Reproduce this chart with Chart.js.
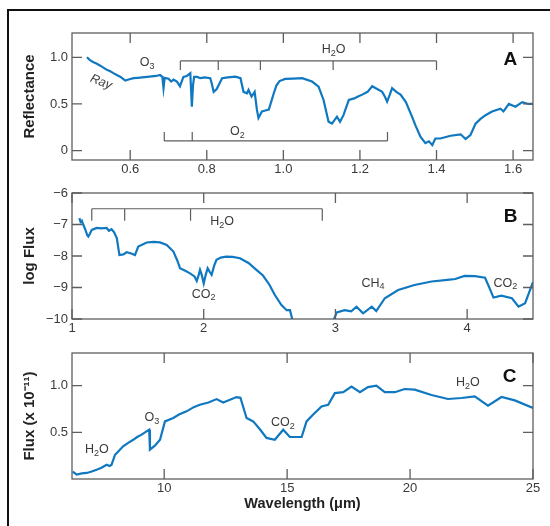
<!DOCTYPE html>
<html lang="en">
<head>
<meta charset="UTF-8" />
<title>Earth spectra</title>
<script src="https://cdn.jsdelivr.net/npm/chart.js"></script>
<style>
  *{margin:0;padding:0;box-sizing:border-box}
  html,body{width:550px;height:526px;background:#fff;overflow:hidden}
  .frame{position:absolute;left:7px;top:9px;width:620px;height:620px;border:2px solid #111}
  canvas{position:absolute;left:0;top:0}
</style>
</head>
<body>
<div class="frame"></div>
<canvas id="chartA" width="550" height="526"></canvas>
<canvas id="chartB" width="550" height="526"></canvas>
<canvas id="chartC" width="550" height="526"></canvas>
<script>
// Panel A: visible / near-IR reflectance
const aWave = [0.487,0.495,0.503,0.513,0.522,0.530,0.539,0.548,0.556,0.565,0.575,0.587,0.598,0.609,0.620,0.632,0.644,0.656,0.668,0.678,
  0.684,0.687,0.690,0.700,0.707,0.713,0.722,0.730,0.739,0.748,0.757,0.761,0.764,0.767,0.775,0.783,0.795,0.809,0.813,0.818,
  0.826,0.840,0.855,0.875,0.888,0.896,0.905,0.909,0.917,0.925,0.931,0.935,0.944,0.953,0.962,0.968,0.975,0.982,0.990,
  1.005,1.025,1.049,1.075,1.092,1.105,1.118,1.127,1.140,1.148,1.157,1.171,1.185,1.195,1.206,
  1.220,1.232,1.245,1.258,1.265,1.271,1.278,1.284,1.295,1.306,1.320,1.336,1.345,1.358,1.371,1.380,1.389,1.397,1.410,1.437,
  1.463,1.476,1.489,1.502,1.515,1.528,1.545,1.567,1.575,1.589,1.606,1.624,1.640,1.654];
const aRefl = [1.00,0.97,0.95,0.93,0.91,0.89,0.865,0.85,0.83,0.81,0.79,0.75,0.765,0.776,0.78,0.785,0.79,0.795,0.80,0.81,
  0.79,0.67,0.78,0.77,0.74,0.76,0.74,0.69,0.79,0.80,0.83,0.47,0.70,0.79,0.79,0.776,0.785,0.776,0.72,0.63,
  0.66,0.776,0.785,0.793,0.776,0.63,0.615,0.65,0.58,0.63,0.436,0.35,0.42,0.43,0.44,0.52,0.615,0.70,0.745,
  0.768,0.772,0.776,0.74,0.686,0.543,0.31,0.29,0.364,0.31,0.38,0.543,0.56,0.58,0.60,
  0.63,0.69,0.66,0.63,0.58,0.525,0.60,0.67,0.63,0.60,0.52,0.365,0.27,0.15,0.08,0.10,0.06,0.13,0.13,0.16,
  0.175,0.125,0.17,0.29,0.34,0.38,0.42,0.45,0.42,0.50,0.47,0.52,0.50,0.50];
const aXTicks = [0.6,0.8,1.0,1.2,1.4,1.6];
const aYTicks = [0,0.5,1.0];

// Panel B: mid-IR log flux
const bWave = [1.056,1.065,1.075,1.085,1.100,1.115,1.124,1.135,1.150,1.187,1.220,1.263,1.280,1.300,1.320,1.340,1.360,1.390,1.415,1.450,
  1.478,1.503,1.567,1.620,1.668,1.719,1.770,1.800,1.820,1.860,1.896,1.930,1.947,1.962,1.972,1.985,2.000,2.015,2.030,2.045,
  2.060,2.080,2.097,2.130,2.170,2.220,2.275,2.340,2.400,2.450,2.500,2.540,2.590,2.630,2.655,2.690,2.800,2.960,3.010,3.070,
  3.120,3.160,3.210,3.276,3.310,3.375,3.476,3.600,3.730,3.850,3.910,3.980,4.060,4.136,4.160,4.200,4.260,4.340,4.390,4.440,4.500];
const bLogFlux = [-6.80,-6.92,-6.88,-7.00,-7.15,-7.33,-7.38,-7.30,-7.17,-7.11,-7.12,-7.11,-7.20,-7.15,-7.25,-7.43,-7.97,-7.95,-7.88,-7.92,
  -7.97,-7.70,-7.57,-7.55,-7.57,-7.65,-7.86,-8.15,-8.39,-8.47,-8.55,-8.65,-8.79,-8.60,-8.44,-8.60,-8.87,-8.60,-8.39,-8.50,
  -8.60,-8.30,-8.12,-8.05,-8.02,-8.03,-8.07,-8.22,-8.44,-8.62,-8.92,-9.24,-9.56,-9.72,-9.72,-10.3,null,-10.3,-9.79,-9.72,
  -9.76,-9.61,-9.82,-9.61,-9.75,-9.34,-9.08,-8.92,-8.81,-8.76,-8.73,-8.63,-8.64,-8.69,-8.92,-9.32,-9.26,-9.34,-9.61,-9.50,-8.83];
const bXTicks = [1,2,3,4];
const bYTicks = [-10,-9,-8,-7,-6];

// Panel C: thermal IR flux
const cWave = [6.28,6.44,6.65,6.85,7.05,7.25,7.45,7.66,7.78,7.86,8.00,8.15,8.33,8.55,8.74,8.90,9.08,9.28,9.39,9.42,
  9.62,9.83,10.03,10.37,10.60,10.91,11.20,11.45,11.80,12.13,12.40,12.94,13.10,13.35,13.62,13.90,14.16,14.50,14.84,15.11,
  15.59,15.79,16.06,16.40,16.67,16.94,17.28,17.62,17.96,18.29,18.63,18.97,19.38,19.78,20.19,20.87,21.54,22.09,22.63,23.17,
  23.72,24.26,25.00];
const cFlux = [0.08,0.047,0.06,0.065,0.08,0.10,0.12,0.153,0.14,0.153,0.26,0.30,0.35,0.39,0.42,0.45,0.475,0.51,0.528,0.314,
  0.357,0.42,0.617,0.653,0.69,0.725,0.77,0.796,0.82,0.856,0.82,0.878,0.87,0.653,0.617,0.53,0.44,0.42,0.528,0.45,
  0.45,0.617,0.69,0.778,0.796,0.92,0.93,0.99,0.93,0.985,1.00,0.93,0.93,0.964,0.957,0.90,0.857,0.868,0.885,0.785,
  0.878,0.842,0.76];
const cXTicks = [10,15,20,25];
const cYTicks = [0.5,1.0];

// molecule labels and brackets, in data units
const aLabels = [['O3',0.644,0.94],['H2O',1.131,1.08],['O2',0.88,0.2]];
const aBrackets = [{xs:[0.731,0.83,0.94,1.13,1.40], y:0.961, dir:1}, {xs:[0.689,0.762,1.272], y:0.104, dir:-1}];
const bLabels = [['H2O',2.14,-6.9],['CO2',2.0,-9.21],['CH4',3.285,-8.86],['CO2',4.29,-8.86]];
const bBrackets = [{xs:[1.15,1.40,1.90,2.90], y:-6.5, dir:1}];
const cLabels = [['H2O',7.26,0.315],['O3',9.5,0.657],['CO2',14.83,0.604],['H2O',22.35,1.03]];

const FONT = "'Liberation Sans', Arial, sans-serif";
const BLUE = '#0f78c0';
const GREY = '#5e5e5e';
const TICK = 10;

function drawChem(ctx, s, x, y, size) {
  const parts = s.split('').map(c => ({c, sub: /\d/.test(c)}));
  let w = 0;
  parts.forEach(p => { ctx.font = (p.sub ? size*0.72 : size) + 'px ' + FONT; p.w = ctx.measureText(p.c).width; w += p.w; });
  let cx = x - w/2;
  ctx.textAlign = 'left'; ctx.textBaseline = 'middle';
  parts.forEach(p => {
    ctx.font = (p.sub ? size*0.72 : size) + 'px ' + FONT;
    ctx.fillText(p.c, cx, y + (p.sub ? size*0.3 : 0));
    cx += p.w;
  });
}

const panelPlugin = {
  id: 'panel',
  afterDatasetsDraw(chart, args, opts) {
    const {ctx, chartArea: a, scales: {x, y}} = chart;
    ctx.save();
    ctx.strokeStyle = GREY; ctx.lineWidth = 1.3;
    ctx.strokeRect(a.left, a.top, a.right - a.left, a.bottom - a.top);
    ctx.beginPath();
    x.ticks.forEach(t => {
      const px = x.getPixelForValue(t.value);
      ctx.moveTo(px, a.top); ctx.lineTo(px, a.top + TICK);
      ctx.moveTo(px, a.bottom); ctx.lineTo(px, a.bottom - TICK);
    });
    y.ticks.forEach(t => {
      const py = y.getPixelForValue(t.value);
      ctx.moveTo(a.left, py); ctx.lineTo(a.left + TICK, py);
      ctx.moveTo(a.right, py); ctx.lineTo(a.right - TICK, py);
    });
    ctx.stroke();
    // brackets
    ctx.lineWidth = 1.2;
    (opts.brackets || []).forEach(b => {
      const py = y.getPixelForValue(b.y);
      const xs = b.xs.map(v => x.getPixelForValue(v));
      ctx.beginPath();
      ctx.moveTo(Math.min(...xs), py); ctx.lineTo(Math.max(...xs), py);
      xs.forEach(px => { ctx.moveTo(px, py); ctx.lineTo(px, py + b.dir * opts.bracketTick); });
      ctx.stroke();
    });
    ctx.fillStyle = '#3a3a3a';
    (opts.labels || []).forEach(l => drawChem(ctx, l[0], x.getPixelForValue(l[1]), y.getPixelForValue(l[2]), 12.5));
    if (opts.ray) {
      ctx.save();
      ctx.translate(x.getPixelForValue(opts.ray[0]), y.getPixelForValue(opts.ray[1]));
      ctx.rotate(0.38);
      ctx.font = 'italic 12.5px ' + FONT;
      ctx.textAlign = 'center'; ctx.textBaseline = 'middle';
      ctx.fillText('Ray', 0, 0);
      ctx.restore();
    }
    ctx.fillStyle = '#111';
    ctx.font = 'bold 19px ' + FONT;
    ctx.textAlign = 'center'; ctx.textBaseline = 'middle';
    ctx.fillText(opts.letter[0], x.getPixelForValue(opts.letter[1]), y.getPixelForValue(opts.letter[2]));
    ctx.restore();
  }
};

function makePanel(id, wave, vals, cfg) {
  const pts = wave.map((w, i) => ({x: w, y: vals[i]}));
  return new Chart(document.getElementById(id), {
    type: 'line',
    data: { datasets: [{ data: pts, borderColor: BLUE, borderWidth: 2.2, pointRadius: 0, tension: 0, spanGaps: false }] },
    options: {
      responsive: false, animation: false, devicePixelRatio: 1,
      layout: { padding: cfg.pad },
      plugins: { legend: {display: false}, tooltip: {enabled: false}, panel: cfg.panel },
      scales: {
        x: {
          type: 'linear', min: cfg.xMin, max: cfg.xMax,
          afterBuildTicks: s => { s.ticks = cfg.xTicks.map(v => ({value: v})); },
          afterFit: s => { s.height = cfg.xH; },
          grid: {display: false, drawTicks: false}, border: {display: false},
          ticks: { autoSkip: false, maxRotation: 0, padding: 2, color: '#3a3a3a', font: {family: FONT, size: 13}, callback: cfg.xFmt },
          title: cfg.xTitle ? { display: true, text: cfg.xTitle, color: '#222', font: {family: FONT, size: 14.5, weight: 'bold'}, padding: 0 } : {display: false}
        },
        y: {
          min: cfg.yMin, max: cfg.yMax,
          afterBuildTicks: s => { s.ticks = cfg.yTicks.map(v => ({value: v})); },
          afterFit: s => { s.width = 51; },
          grid: {display: false, drawTicks: false}, border: {display: false},
          ticks: { autoSkip: false, padding: 4, color: '#3a3a3a', font: {family: FONT, size: 13}, callback: cfg.yFmt },
          title: { display: true, text: cfg.yTitle, color: '#222', font: {family: FONT, size: 15, weight: 'bold'}, padding: 0 }
        }
      }
    },
    plugins: [panelPlugin]
  });
}

makePanel('chartA', aWave, aRefl, {
  pad: {left: 21, right: 17, top: 33, bottom: 346},
  xMin: 0.448, xMax: 1.652, yMin: -0.1, yMax: 1.26, xTicks: aXTicks, yTicks: aYTicks, xH: 20,
  xFmt: v => v.toFixed(1), yFmt: v => v === 0 ? '0' : v.toFixed(1),
  yTitle: 'Reflectance',
  panel: {brackets: aBrackets, labels: aLabels, bracketTick: 9, ray: [0.524, 0.735], letter: ['A', 1.593, 0.97]}
});

makePanel('chartB', bWave, bLogFlux, {
  pad: {left: 21, right: 17, top: 193, bottom: 187},
  xMin: 1, xMax: 4.5, yMin: -10, yMax: -6, xTicks: bXTicks, yTicks: bYTicks, xH: 20,
  xFmt: v => String(v), yFmt: v => '\u2212' + Math.abs(v),
  yTitle: 'log Flux',
  panel: {brackets: bBrackets, labels: bLabels, bracketTick: 12, letter: ['B', 4.33, -6.75]}
});

makePanel('chartC', cWave, cFlux, {
  pad: {left: 21, right: 17, top: 353, bottom: 13},
  xMin: 6.25, xMax: 25, yMin: 0, yMax: 1.35, xTicks: cXTicks, yTicks: cYTicks, xH: 34,
  xFmt: v => String(v), yFmt: v => v.toFixed(1),
  xTitle: 'Wavelength (\u03bcm)', yTitle: 'Flux (x 10\u207b\u00b9\u00b9)',
  panel: {labels: cLabels, letter: ['C', 24.05, 1.096]}
});
</script>
</body>
</html>
